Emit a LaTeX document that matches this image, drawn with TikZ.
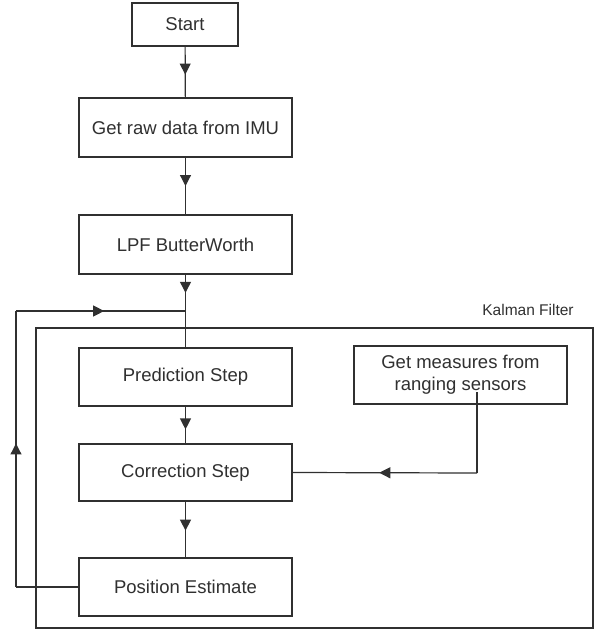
\documentclass[tikz,border=0pt]{standalone}
\usepackage{fontspec}
\setmainfont{Liberation Sans}
\usetikzlibrary{arrows.meta,decorations.markings}
\definecolor{ink}{HTML}{303030}
\tikzset{
  box/.style={draw=ink, line width=1.2pt, text=ink, minimum width=213pt, minimum height=58pt, inner sep=0pt, font=\fontsize{18.5}{22}\selectfont, align=center},
  conn/.style={draw=ink, line width=1.2pt},
  midarrow/.style={postaction={decorate}, decoration={markings, mark=at position #1 with {\arrow[ink]{Triangle[width=11pt,length=11pt]}}}},
}
\begin{document}
\begin{tikzpicture}[x=1pt,y=-1pt]
\useasboundingbox (0,0) rectangle (609,629);
\fill[white] (0,0) rectangle (609,629);
% Kalman filter frame
\draw[conn] (36,328) rectangle (593,628);
\node[text=ink, font=\fontsize{15.5}{18}\selectfont] (klabel) at (528,310) {Kalman Filter};
% nodes
\node[box, minimum width=106pt, minimum height=43pt] (start) at (185,24.5) {Start};
\node[box, minimum height=59pt] (imu) at (185.5,127.5) {Get raw data from IMU};
\node[box, minimum height=59pt] (lpf) at (185.5,244.5) {LPF ButterWorth};
\node[box] (pred) at (185.5,377) {Prediction Step};
\node[box, minimum height=57pt] (corr) at (185.5,472.5) {Correction Step};
\node[box] (pos) at (185.5,587) {Position Estimate};
\node[box] (meas) at (460.5,375) {Get measures from\\ranging sensors};
% helper coordinates
\coordinate (join) at (185.5,311);
\coordinate (fbtop) at (16,311);
\coordinate (fbbot) at (16,587);
\coordinate (mtap) at (477,392);
\coordinate (mcorner) at (477,473);
% connectors
\draw[conn, midarrow=0.55] (start) -- (imu);
\draw[conn, midarrow=0.5] (imu) -- (lpf);
\draw[conn, midarrow=0.5] (lpf) -- (join);
\draw[conn] (join) -- (pred);
\draw[conn, midarrow=0.62] (pred) -- (corr);
\draw[conn, midarrow=0.52] (corr) -- (pos);
\draw[conn] (pos.west) -- (fbbot);
\draw[conn, midarrow=0.52] (fbbot) -- (fbtop);
\draw[conn, midarrow=0.52] (fbtop) -- (join);
\draw[conn] (mtap) -- (mcorner);
\draw[conn, midarrow=0.53] (mcorner) -- (corr.east);
\end{tikzpicture}
\end{document}
